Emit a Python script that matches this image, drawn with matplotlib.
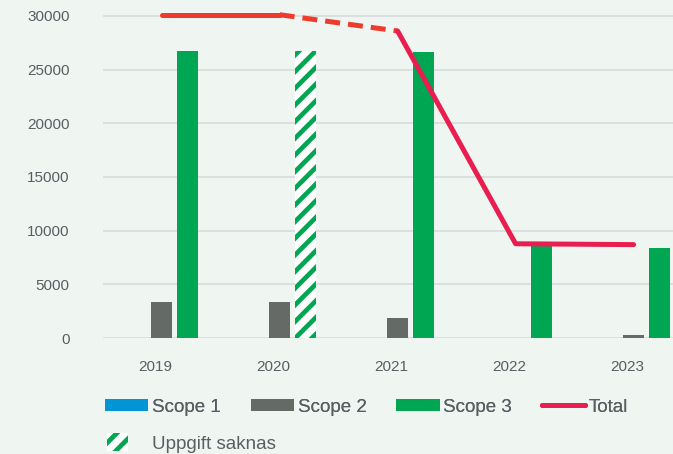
import matplotlib
matplotlib.use("Agg")
import matplotlib.pyplot as plt
from matplotlib.patches import Patch
from matplotlib.lines import Line2D

years = ["2019", "2020", "2021", "2022", "2023"]
scope1 = [0, 0, 0, 0, 0]
scope2 = [3380, 3380, 1840, 0, 250]
scope3 = [26700, 26750, 26650, 8700, 8350]
total = [30120, 30120, 28600, 8780, 8700]
scope3_missing = [False, True, False, False, False]  # 2020 Scope 3 not reported

BG = "#eff5f1"
C1 = "#0096d6"
C2 = "#656a66"
C3 = "#00a651"
C_TOT = "#e91e50"
C_EST = "#ef3b2c"
TXT = "#5a5e63"

plt.rcParams["font.family"] = ["Liberation Sans", "DejaVu Sans"]
plt.rcParams["hatch.linewidth"] = 3.4
plt.rcParams["hatch.color"] = C3

fig = plt.figure(figsize=(6.73, 4.54), dpi=100, facecolor=BG)
ax = fig.add_axes([103 / 673, 1 - 338 / 454, 1 - 103 / 673, 338 / 454])
ax.set_facecolor(BG)

x = list(range(len(years)))
w = 0.174
off = [-0.168, 0.05, 0.27]

ax.bar([i + off[0] for i in x], scope1, w, color=C1, zorder=3)
ax.bar([i + off[1] for i in x], scope2, w, color=C2, zorder=3)
for i in x:
    if scope3_missing[i]:
        ax.bar(i + off[2], scope3[i], w, facecolor="white", edgecolor=C3,
               hatch="//", linewidth=0, zorder=3)
    else:
        ax.bar(i + off[2], scope3[i], w, color=C3, zorder=3)

# Total line: reported (solid), estimated (dashed)
lx = [i + off[1] for i in x]
ax.plot(lx[0:2], total[0:2], color=C_EST, lw=3.6, solid_capstyle="round",
        zorder=4, clip_on=False)
ax.plot(lx[1:3], total[1:3], color=C_EST, lw=3.6, linestyle=(0, (3, 1.6)),
        zorder=4, clip_on=False)
ax.plot(lx[2:], total[2:], color=C_TOT, lw=3.6, solid_capstyle="round",
        solid_joinstyle="round", zorder=4, clip_on=False)

ax.set_xlim(-0.447, 4.384)
ax.set_ylim(0, 31490)
ax.set_yticks(range(0, 30001, 5000))
ax.set_xticks(x)
ax.set_xticklabels(years)
ax.grid(axis="y", color="#dadddf", lw=1.3, zorder=0)
ax.set_axisbelow(True)
for s in ax.spines.values():
    s.set_visible(False)
ax.tick_params(axis="both", length=0, labelsize=11, labelcolor=TXT)
ax.tick_params(axis="y", pad=24)
ax.tick_params(axis="x", pad=16)

handles = [
    Patch(facecolor=C1, label="Scope 1"),
    Patch(facecolor=C2, label="Scope 2"),
    Patch(facecolor=C3, label="Scope 3"),
    Line2D([], [], color=C_TOT, lw=3.6, solid_capstyle="round", label="Total"),
]
leg = fig.legend(handles=handles, loc="center left", ncol=4,
                 bbox_to_anchor=(105 / 673, 1 - 407 / 454), frameon=False,
                 fontsize=13.5, handlelength=2.3, handleheight=0.55,
                 handletextpad=0.2, columnspacing=1.6, borderpad=0,
                 borderaxespad=0, labelcolor=TXT)
fig.add_artist(leg)

leg2 = fig.legend(handles=[Patch(facecolor="white", edgecolor=C3, hatch="//",
                                 linewidth=0, label="Uppgift saknas")],
                  loc="center left", bbox_to_anchor=(106.7 / 673, 1 - 443 / 454),
                  frameon=False, fontsize=13.5, handlelength=1.12,
                  handleheight=1.07, handletextpad=1.28, borderpad=0,
                  borderaxespad=0, labelcolor=TXT)

fig.savefig("out.png", dpi=100, facecolor=BG)
